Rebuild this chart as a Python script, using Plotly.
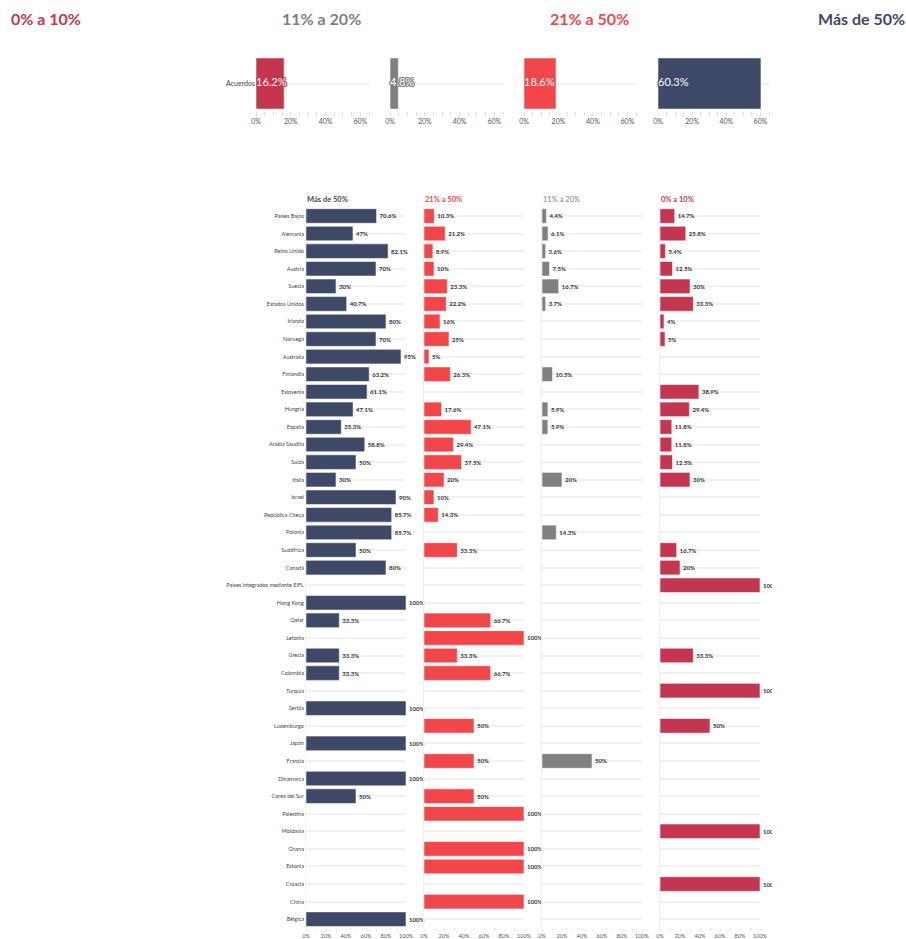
import plotly.graph_objects as go

# ---------------- data ----------------
countries = [
    "Países Bajos", "Alemania", "Reino Unido", "Austria", "Suecia", "Estados Unidos",
    "Irlanda", "Noruega", "Australia", "Finlandia", "Eslovenia", "Hungría", "España",
    "Arabia Saudita", "Suiza", "Italia", "Israel", "República Checa", "Polonia",
    "Sudáfrica", "Canadá", "Países integrados mediante EIFL", "Hong Kong", "Qatar",
    "Letonia", "Grecia", "Colombia", "Turquía", "Serbia", "Luxemburgo", "Japón",
    "Francia", "Dinamarca", "Corea del Sur", "Palestina", "Moldavia", "Ghana",
    "Estonia", "Croacia", "China", "Bélgica",
]
mas_50 = [70.6, 47, 82.1, 70, 30, 40.7, 80, 70, 95, 63.2, 61.1, 47.1, 35.3, 58.8, 50, 30,
          90, 85.7, 85.7, 50, 80, None, 100, 33.3, None, 33.3, 33.3, None, 100, None, 100,
          None, 100, 50, None, None, None, None, None, None, 100]
de_21_50 = [10.3, 21.2, 8.9, 10, 23.3, 22.2, 16, 25, 5, 26.3, None, 17.6, 47.1, 29.4, 37.5, 20,
            10, 14.3, None, 33.3, None, None, None, 66.7, 100, 33.3, 66.7, None, None, 50, None,
            50, None, 50, 100, None, 100, 100, None, 100, None]
de_11_20 = [4.4, 6.1, 3.6, 7.5, 16.7, 3.7, None, None, None, 10.5, None, 5.9, 5.9, None, None, 20,
            None, None, 14.3, None, None, None, None, None, None, None, None, None, None, None, None,
            50, None, None, None, None, None, None, None, None, None]
de_0_10 = [14.7, 25.8, 5.4, 12.5, 30, 33.3, 4, 5, None, None, 38.9, 29.4, 11.8, 11.8, 12.5, 30,
           None, None, None, 16.7, 20, 100, None, None, None, 33.3, None, 100, None, 50, None,
           None, None, None, None, 100, None, None, 100, None, None]

summary_category = ["Acuerdos"]
summary_0_10 = [16.2]
summary_11_20 = [4.8]
summary_21_50 = [18.6]
summary_mas_50 = [60.3]

group_names = ["0% a 10%", "11% a 20%", "21% a 50%", "Más de 50%"]

top_tickvals = [0, 20, 40, 60]
top_ticktext = ["0%", "20%", "40%", "60%"]
bottom_tickvals = [0, 20, 40, 60, 80, 100]
bottom_ticktext = ["0%", "20%", "40%", "60%", "80%", "100%"]

# ---------------- style ----------------
NAVY = "#3d4966"
RED = "#f1474b"
GRAY = "#808080"
CRIMSON = "#c4364f"
FONT = "Lato"
W, H = 906, 939


def px_x(v):
    return v / W


def px_y(v):
    return 1 - v / H


fig = go.Figure()

# ---------- top summary panels ----------
top_series = [summary_0_10, summary_11_20, summary_21_50, summary_mas_50]
top_colors = [CRIMSON, GRAY, RED, NAVY]
top_x_px = [(256, 369), (390, 503), (524, 636), (658, 769)]
top_y_dom = [px_y(111), px_y(56)]

for i, (vals, col) in enumerate(zip(top_series, top_colors)):
    n = i + 1
    xa = "x" if n == 1 else f"x{n}"
    ya = "y" if n == 1 else f"y{n}"
    fig.add_trace(go.Bar(
        x=vals, y=summary_category, orientation="h", xaxis=xa, yaxis=ya, width=0.93,
        marker=dict(color=col, line=dict(color="rgba(255,255,255,0.55)", width=1)),
        hoverinfo="x+y", showlegend=False,
    ))
    outline = ", ".join(f"{dx}px {dy}px 0 {col}" for dx, dy in
                        [(-1, -1), (1, -1), (-1, 1), (1, 1), (0, 1), (0, -1), (1, 0), (-1, 0)])
    fig.add_trace(go.Scatter(
        x=[0] * len(vals), y=summary_category, xaxis=xa, yaxis=ya, mode="text",
        text=[f"{v}%" for v in vals], textposition="middle right",
        textfont=dict(family=FONT, size=11, color="white", shadow=outline),
        hoverinfo="skip", showlegend=False, cliponaxis=False,
    ))
    x0, x1 = top_x_px[i]
    fig.layout[("xaxis" if n == 1 else f"xaxis{n}")] = dict(
        domain=[px_x(x0), px_x(x1)], anchor=ya, range=[0, 65], automargin=False,
        tickmode="array", tickvals=top_tickvals, ticktext=top_ticktext,
        showgrid=False, zeroline=False,
        ticks="outside", ticklen=4, tickcolor="#e2e2e2",
        minor=dict(dtick=5, ticks="outside", ticklen=4, tickcolor="#e2e2e2", showgrid=False),
        tickfont=dict(family=FONT, size=7, color="#555"), fixedrange=True,
    )
    fig.layout[("yaxis" if n == 1 else f"yaxis{n}")] = dict(
        domain=top_y_dom, anchor=xa, showgrid=True, gridcolor="#f1f1f1", gridwidth=1.5,
        showticklabels=(n == 1), tickfont=dict(family=FONT, size=7, color="#444"),
        zeroline=False, fixedrange=True, automargin=False,
    )

# ---------- bottom country panels ----------
bottom_series = [mas_50, de_21_50, de_11_20, de_0_10]
bottom_colors = [NAVY, RED, GRAY, CRIMSON]
bottom_titles = [group_names[3], group_names[2], group_names[1], group_names[0]]
bottom_title_bold = [True, True, False, True]
bottom_x_px = [(306, 406), (424, 524), (542, 642), (660, 760)]
bot_y_dom = [px_y(928), px_y(207.2)]

for j, (vals, col) in enumerate(zip(bottom_series, bottom_colors)):
    n = j + 5
    xa, ya = f"x{n}", f"y{n}"
    fig.add_trace(go.Bar(
        x=vals, y=countries, orientation="h", xaxis=xa, yaxis=ya,
        marker=dict(color=col, line=dict(color="rgba(255,255,255,0.55)", width=1)),
        text=[f"{v}%" if v is not None else "" for v in vals],
        textposition="outside", cliponaxis=False,
        textfont=dict(family=FONT, size=6, color="#333", weight="bold"),
        hoverinfo="x+y", showlegend=False,
    ))
    x0, x1 = bottom_x_px[j]
    fig.layout[f"xaxis{n}"] = dict(
        domain=[px_x(x0), px_x(x1)], anchor=ya, range=[0, 100], automargin=False,
        tickmode="array", tickvals=bottom_tickvals, ticktext=bottom_ticktext,
        showgrid=False, zeroline=False,
        ticks="outside", ticklen=2, tickcolor="#e2e2e2",
        minor=dict(dtick=10, ticks="outside", ticklen=2, tickcolor="#e2e2e2", showgrid=False),
        tickfont=dict(family=FONT, size=5.5, color="#555"), fixedrange=True,
    )
    fig.layout[f"yaxis{n}"] = dict(
        domain=bot_y_dom, anchor=xa, autorange="reversed", automargin=False,
        categoryorder="array", categoryarray=countries,
        showgrid=True, gridcolor="#f1f1f1", gridwidth=1.5,
        showline=True, linecolor="#eeeeee", linewidth=1,
        showticklabels=(j == 0), tickfont=dict(family=FONT, size=5.5, color="#444"),
        zeroline=False, fixedrange=True,
    )
    t = bottom_titles[j]
    fig.add_annotation(
        x=px_x(x0), y=px_y(200), xref="paper", yref="paper", xanchor="left", yanchor="middle",
        text=f"<b>{t}</b>" if bottom_title_bold[j] else t, showarrow=False,
        font=dict(family=FONT, size=7.5, color=col), borderpad=0,
    )

# ---------- headline group titles ----------
head_colors = [CRIMSON, GRAY, RED, NAVY]
head_pos = [(10, "left"), (321, "center"), (589, "center"), (906, "right")]
for name, col, (xp, anc) in zip(group_names, head_colors, head_pos):
    fig.add_annotation(
        x=px_x(xp), y=px_y(19), xref="paper", yref="paper", xanchor=anc, yanchor="middle",
        text=f"<b>{name}</b>", showarrow=False, borderpad=0,
        font=dict(family=FONT, size=16, color=col),
    )

# mask reproducing the clipped right edge of the last panel
fig.add_shape(type="rect", xref="paper", yref="paper", x0=px_x(772), x1=1.0,
              y0=0.0, y1=px_y(190), fillcolor="white", line=dict(width=0), layer="above")

fig.update_layout(
    width=W, height=H, margin=dict(l=0, r=0, t=0, b=0, pad=0, autoexpand=False),
    paper_bgcolor="white", plot_bgcolor="white",
    barmode="overlay", bargap=0.17,
    font=dict(family=FONT, color="#444"),
)

fig.write_html(
    "out.html",
    config={"displayModeBar": False, "responsive": False},
    post_script="document.body.style.margin='0';document.body.style.overflow='hidden';",
)
